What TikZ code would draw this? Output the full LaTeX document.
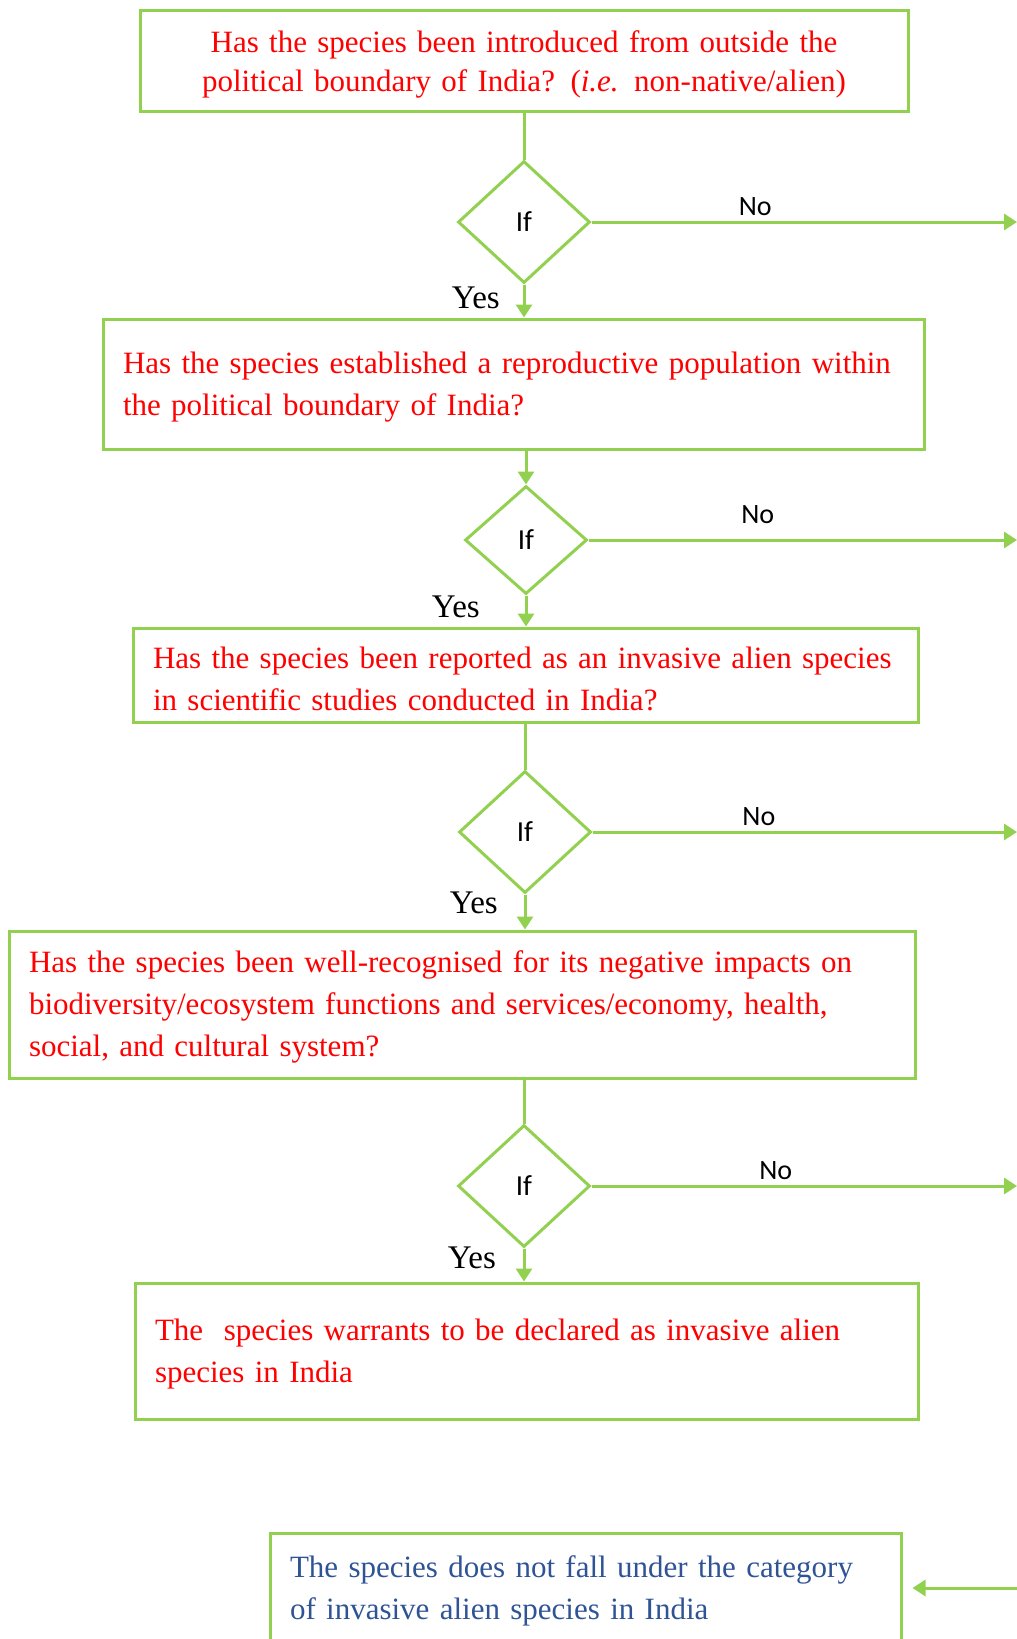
\documentclass[tikz,border=0pt]{standalone}
\usepackage{fontspec}
\setmainfont{Liberation Serif}
\newfontfamily\calfont{Carlito}
\usetikzlibrary{shapes.geometric,arrows.meta}
\definecolor{lgreen}{RGB}{146,208,80}
\definecolor{qred}{RGB}{255,0,0}
\definecolor{qblue}{RGB}{47,84,150}

\begin{document}
\begin{tikzpicture}[x=0.5pt,y=-0.5pt,
  qbox/.style={draw=lgreen,line width=1.5pt,text=qred,align=left,
    font=\fontsize{15.5}{21}\selectfont,inner xsep=10pt,inner ysep=0pt,
    execute at begin node={\rule{0pt}{13.8pt}}},
  ifbox/.style={draw=lgreen,line width=1.5pt,diamond,inner sep=0pt,
    font=\calfont\fontsize{14.5}{16}\selectfont},
  link/.style={draw=lgreen,line width=1.5pt},
  go/.style={link,-{Triangle[length=6.5pt,width=8pt]}},
  yes/.style={font=\fontsize{16.5}{18}\selectfont,left=#1,yshift=1.5pt},
  no/.style={font=\calfont\fontsize{14}{16}\selectfont,pos=0.385,above=-1pt}]
\useasboundingbox (0,0) rectangle (1017,1639);
\coordinate (rim) at (1017,0);

% question boxes
\node[qbox,align=center,text width=364pt,minimum height=50.5pt,
  font=\fontsize{15.5}{19.2}\selectfont,
  execute at begin node={\rule{0pt}{15pt}}] (q1) at (524,60.5)
  {Has the species been introduced from outside the\\
   political boundary of India? (\textit{i.e.} non-native/alien)};
\node[qbox,text width=390.5pt,minimum height=65pt] (q2) at (513.5,384)
  {Has the species established a reproductive population within\\
   the political boundary of India?};
\node[qbox,text width=372.5pt,minimum height=47pt,
  execute at begin node={\rule{0pt}{15pt}}] (q3) at (525.5,675)
  {Has the species been reported as an invasive alien species\\
   in scientific studies conducted in India?};
\node[qbox,text width=433pt,minimum height=73.5pt] (q4) at (462,1004.5)
  {Has the species been well-recognised for its negative impacts on\\
   biodiversity/ecosystem functions and services/economy, health,\\
   social, and cultural system?};
\node[qbox,text width=371.5pt,minimum height=68pt] (q5) at (526.5,1351)
  {The~ species warrants to be declared as invasive alien\\
   species in India};
\node[qbox,text=qblue,text width=295.5pt,minimum height=55pt] (out) at (585.5,1588)
  {The species does not fall under the category\\
   of invasive alien species in India};

% decisions
\node[ifbox,minimum width=66pt,minimum height=61pt] (d1) at (524,222) {If};
\node[ifbox,minimum width=61pt,minimum height=54pt] (d2) at (526,540) {If};
\node[ifbox,minimum width=66pt,minimum height=61pt] (d3) at (525,832) {If};
\node[ifbox,minimum width=66pt,minimum height=61pt] (d4) at (524,1186) {If};

% down the chain
\draw[link] (d1.north |- q1.south) -- (d1.north);
\draw[go] (d1.south) -- node[yes=8pt] {Yes} (d1.south |- q2.north);
\draw[go] (d2.north |- q2.south) -- (d2.north);
\draw[go] (d2.south) -- node[yes=19pt,yshift=0.5pt] {Yes} (d2.south |- q3.north);
\draw[link] (d3.north |- q3.south) -- (d3.north);
\draw[go] (d3.south) -- node[yes=9.5pt,yshift=3pt] {Yes} (d3.south |- q4.north);
\draw[link] (d4.north |- q4.south) -- (d4.north);
\draw[go] (d4.south) -- node[yes=10pt,yshift=2pt] {Yes} (d4.south |- q5.north);

% the No branches
\draw[go] (d1.east) -- node[no] {No} (d1.east -| rim);
\draw[go] (d2.east) -- node[no,pos=0.395,yshift=5pt] {No} (d2.east -| rim);
\draw[go] (d3.east) -- node[no,pos=0.392] {No} (d3.east -| rim);
\draw[go] (d4.east) -- node[no,pos=0.433] {No} (d4.east -| rim);
\draw[go,shorten >=5pt] (out.east -| rim) -- (out.east);
\end{tikzpicture}
\end{document}
